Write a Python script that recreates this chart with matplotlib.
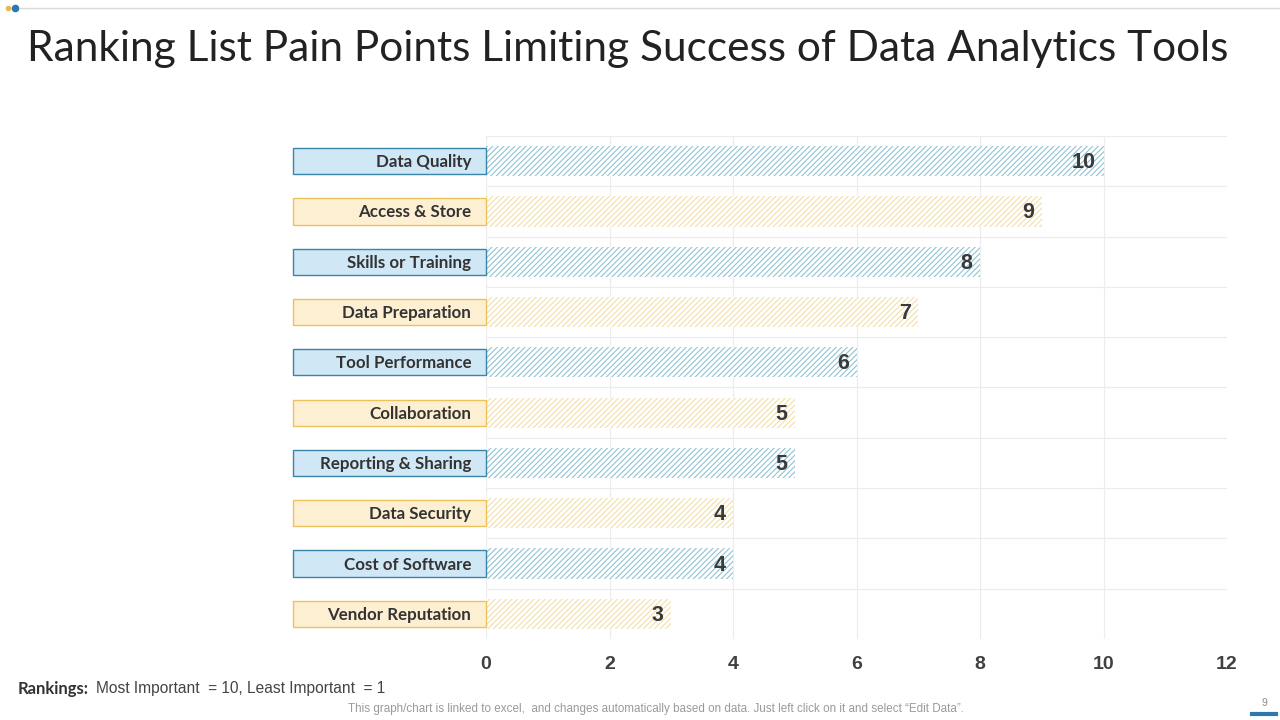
import matplotlib.pyplot as plt
from matplotlib.patches import Rectangle
import matplotlib as mpl

categories = ["Data Quality", "Access & Store", "Skills or Training", "Data Preparation",
              "Tool Performance", "Collaboration", "Reporting & Sharing", "Data Security",
              "Cost of Software", "Vendor Reputation"]
values = [10, 9, 8, 7, 6, 5, 5, 4, 4, 3]
x_ticks = [0, 2, 4, 6, 8, 10, 12]

blue_fill, blue_edge, blue_hatch = "#d0e7f6", "#3a86a8", "#8fc3d3"
orange_fill, orange_edge, orange_hatch = "#fdefd2", "#eec25a", "#f3dfa6"

mpl.rcParams['font.family'] = ['Lato', 'DejaVu Sans']
mpl.rcParams['hatch.linewidth'] = 0.8
arial = ["Liberation Sans", "DejaVu Sans"]

fig = plt.figure(figsize=(12.8, 7.2), dpi=100)
ax = fig.add_axes([486 / 1280, 1 - 639 / 720, (1227 - 486) / 1280, (639 - 136) / 720])

n = len(categories)
for i, (cat, val) in enumerate(zip(categories, values)):
    y = n - 1 - i
    hc = blue_hatch if i % 2 == 0 else orange_hatch
    fill = blue_fill if i % 2 == 0 else orange_fill
    edge = blue_edge if i % 2 == 0 else orange_edge
    ax.barh(y, val, height=0.6, color="white", edgecolor=hc, hatch="//////", linewidth=0, zorder=2)
    ax.text(val - 0.12, y - 0.03, str(val), ha="right", va="center", fontsize=15.5, fontweight="bold",
            color="#3a3a3a", zorder=3, family=arial)
    ax.add_patch(Rectangle((-3.125, y - 0.26), 3.125, 0.52, facecolor=fill, edgecolor=edge,
                           linewidth=1.0, clip_on=False, zorder=3))
    ax.text(-0.24, y - 0.02, cat, ha="right", va="center", fontsize=12.2, fontweight="bold",
            color="#333333", zorder=4)

ax.set_xlim(0, 12)
ax.set_ylim(-0.5, n - 0.5)
ax.set_xticks(x_ticks)
ax.set_xticklabels([str(t) for t in x_ticks], fontsize=14, fontweight="bold", color="#404040",
                   family=arial)
ax.set_yticks([k + 0.5 for k in range(-1, n)])
ax.set_yticklabels([])
ax.tick_params(length=0, pad=12)
ax.grid(True, color="#ececec", linewidth=0.8, zorder=0)
for s in ax.spines.values():
    s.set_visible(False)

fig.text(27 / 1280, 1 - 49 / 720, "Ranking List Pain Points Limiting Success of Data Analytics Tools",
         fontsize=30.5, color="#222222", va="center", ha="left")

# top decoration
fig.add_artist(plt.Line2D([20 / 1280, 1], [1 - 8 / 720, 1 - 8 / 720], color="#d9d9d9", linewidth=1))
fig.add_artist(plt.Line2D([8 / 1280], [1 - 8 / 720], marker="o", markersize=3, color="#f0b84a"))
fig.add_artist(plt.Line2D([15 / 1280], [1 - 8 / 720], marker="o", markersize=4.5, color="#2a7ab0"))

fig.text(18 / 1280, 1 - 689 / 720, "Rankings:", fontsize=12, fontweight="bold",
         color="#333333", va="center", ha="left")
fig.text(96 / 1280, 1 - 689 / 720, "Most Important  = 10, Least Important  = 1", fontsize=11.2,
         color="#444444", va="center", ha="left", family=arial)

fig.text(656 / 1280, 1 - 709 / 720,
         "This graph/chart is linked to excel,  and changes automatically based on data. Just left click on it and select \u201cEdit Data\u201d.",
         fontsize=8.4, color="#9a9a9a", va="center", ha="center", family=arial)
fig.text(1264 / 1280, 1 - 703 / 720, "9", fontsize=7.5, color="#8a8a8a", va="center", ha="center",
         family=arial)
fig.add_artist(plt.Line2D([1252 / 1280, 1276 / 1280], [1 - 714 / 720, 1 - 714 / 720],
                          color="#2a7ab0", linewidth=3))

fig.savefig("out.png", dpi=100)
